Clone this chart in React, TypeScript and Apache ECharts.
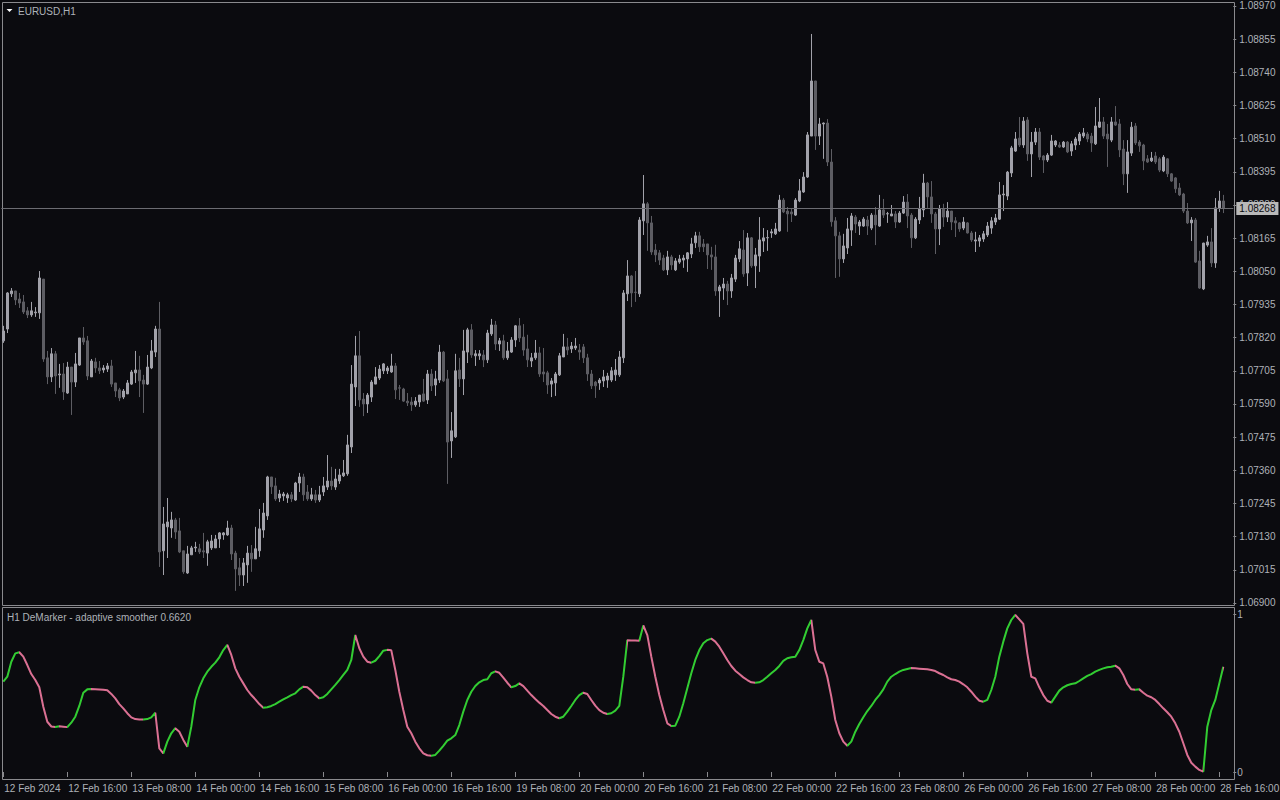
import { useEffect, useRef } from "react";
import * as echarts from "echarts";

// ---------- categories / tick labels ----------
const FIRST_LABEL = "12 Feb 2024";
const TRADING_DAYS = ["12 Feb", "13 Feb", "14 Feb", "15 Feb", "16 Feb", "19 Feb", "20 Feb", "21 Feb", "22 Feb", "23 Feb", "26 Feb", "27 Feb", "28 Feb"];
const SLOT_COUNT = 308;
const LABEL_STEP = 16;
const PRICE_TICKS = [1.0897, 1.08855, 1.0874, 1.08625, 1.0851, 1.08395, 1.0828, 1.08165, 1.0805, 1.07935, 1.0782, 1.07705, 1.0759, 1.07475, 1.0736, 1.07245, 1.0713, 1.07015, 1.069];
const PRICE_MIN = 1.068965;
const PRICE_MAX = 1.089804;

// ---------- EURUSD H1 candles ----------
const OPEN = [
  1.07809, 1.0785, 1.07972, 1.07982, 1.07954, 1.07944, 1.07913, 1.07899, 1.07906, 1.07906,
  1.08023, 1.0775, 1.07684, 1.07764, 1.07691, 1.07694, 1.07628, 1.07718, 1.07666, 1.07725,
  1.07819, 1.07809, 1.07684, 1.07736, 1.07715, 1.07708, 1.07711, 1.07722, 1.07663, 1.07639,
  1.07614, 1.07625, 1.07659, 1.07698, 1.07708, 1.07673, 1.07659, 1.07715, 1.0777, 1.0785,
  1.07081, 1.07164, 1.0716, 1.07188, 1.0715, 1.07081, 1.07004, 1.07067, 1.07091, 1.07088,
  1.07081, 1.07073, 1.07091, 1.07091, 1.07122, 1.07136, 1.07136, 1.0716, 1.07073, 1.07022,
  1.06997, 1.07032, 1.07073, 1.07053, 1.07081, 1.07153, 1.07202, 1.07337, 1.07306, 1.07264,
  1.07271, 1.07264, 1.07275, 1.07257, 1.07316, 1.07337, 1.07285, 1.07261, 1.07275, 1.07257,
  1.07285, 1.07302, 1.07323, 1.07302, 1.07323, 1.07341, 1.07348, 1.07441, 1.07649, 1.07757,
  1.07607, 1.0759, 1.07614, 1.07659, 1.0768, 1.07705, 1.07705, 1.07701, 1.07722, 1.07646,
  1.07642, 1.076, 1.07597, 1.07587, 1.07597, 1.07625, 1.07604, 1.07694, 1.07656, 1.07673,
  1.0777, 1.07677, 1.07462, 1.07476, 1.07708, 1.07677, 1.0777, 1.07847, 1.07757, 1.07757,
  1.0776, 1.07743, 1.07833, 1.07864, 1.07798, 1.07809, 1.0775, 1.0777, 1.07812, 1.07861,
  1.07822, 1.07781, 1.07739, 1.0775, 1.07767, 1.07701, 1.07698, 1.07659, 1.07663, 1.07691,
  1.07753, 1.07788, 1.07781, 1.07784, 1.07777, 1.07788, 1.0775, 1.07694, 1.07666, 1.07663,
  1.0767, 1.07673, 1.07673, 1.07691, 1.07691, 1.0775, 1.07972, 1.08034, 1.07978, 1.07972,
  1.08225, 1.08284, 1.08218, 1.08124, 1.08114, 1.08096, 1.08055, 1.081, 1.08055, 1.08082,
  1.08089, 1.08093, 1.0811, 1.08149, 1.08173, 1.08145, 1.08145, 1.08107, 1.081, 1.07982,
  1.07992, 1.08006, 1.07982, 1.08023, 1.08093, 1.08124, 1.08044, 1.08166, 1.08069, 1.08103,
  1.08155, 1.08166, 1.08183, 1.0818, 1.0819, 1.08297, 1.08259, 1.08256, 1.08245, 1.08294,
  1.08325, 1.08377, 1.08519, 1.0871, 1.08519, 1.08561, 1.08564, 1.08429, 1.08225, 1.08173,
  1.08093, 1.08131, 1.08193, 1.08238, 1.08207, 1.08207, 1.08228, 1.082, 1.08245, 1.08207,
  1.08263, 1.08249, 1.08242, 1.08249, 1.08221, 1.08252, 1.0829, 1.08245, 1.08166, 1.08228,
  1.08263, 1.08356, 1.08308, 1.08249, 1.08197, 1.08266, 1.08238, 1.08259, 1.08225, 1.08218,
  1.082, 1.08218, 1.08183, 1.08155, 1.08155, 1.08162, 1.08176, 1.082, 1.08221, 1.08231,
  1.08315, 1.08311, 1.08391, 1.08467, 1.08512, 1.08488, 1.08575, 1.08457, 1.08498, 1.08533,
  1.0845, 1.08436, 1.08453, 1.08488, 1.08488, 1.08481, 1.08498, 1.08467, 1.08488, 1.08502,
  1.08519, 1.08526, 1.08519, 1.08492, 1.0855, 1.08568, 1.08526, 1.08505, 1.08568, 1.08561,
  1.08474, 1.08388, 1.0846, 1.08554, 1.08498, 1.08488, 1.0844, 1.08433, 1.0845, 1.0844,
  1.08398, 1.0844, 1.08388, 1.08374, 1.08339, 1.08318, 1.08259, 1.08218, 1.08228, 1.08086,
  1.07989, 1.08141, 1.08152, 1.08079, 1.0827, 1.08294,
];
const HIGH = [
  1.07861, 1.07978, 1.07992, 1.07982, 1.07975, 1.07968, 1.07926, 1.07944, 1.07926, 1.08051,
  1.08023, 1.07774, 1.07784, 1.07774, 1.07729, 1.07732, 1.07736, 1.07718, 1.07767, 1.07819,
  1.07857, 1.07826, 1.07746, 1.0775, 1.07739, 1.07725, 1.07732, 1.07743, 1.07663, 1.07646,
  1.07642, 1.07673, 1.07708, 1.07774, 1.07757, 1.07691, 1.0776, 1.07812, 1.07861, 1.07944,
  1.07233, 1.07264, 1.07216, 1.07195, 1.07195, 1.07081, 1.07098, 1.07098, 1.07112, 1.07105,
  1.07143, 1.07119, 1.07136, 1.07136, 1.07146, 1.07146, 1.07185, 1.07171, 1.07081, 1.07056,
  1.07056, 1.07098, 1.07101, 1.07164, 1.07226, 1.07247, 1.07341, 1.07337, 1.07334, 1.07292,
  1.07285, 1.07282, 1.07285, 1.0732, 1.07351, 1.07348, 1.07309, 1.07299, 1.07292, 1.07306,
  1.07337, 1.07413, 1.07372, 1.07365, 1.07365, 1.07396, 1.07483, 1.07725, 1.07826, 1.07843,
  1.07628, 1.07628, 1.07673, 1.07718, 1.07725, 1.07732, 1.07722, 1.07764, 1.07732, 1.07656,
  1.07646, 1.07628, 1.07614, 1.07614, 1.07621, 1.07677, 1.07708, 1.07711, 1.07705, 1.07795,
  1.07774, 1.07708, 1.07562, 1.07764, 1.0775, 1.07847, 1.07854, 1.07867, 1.07777, 1.07777,
  1.07777, 1.07847, 1.07885, 1.07878, 1.07819, 1.0783, 1.07805, 1.07822, 1.07864, 1.07888,
  1.07867, 1.0783, 1.07767, 1.07812, 1.07788, 1.07784, 1.07705, 1.0768, 1.07701, 1.07767,
  1.07833, 1.07819, 1.07805, 1.07819, 1.07798, 1.07798, 1.07764, 1.07708, 1.0767, 1.0768,
  1.07708, 1.07698, 1.07718, 1.07746, 1.07774, 1.07985, 1.08089, 1.08037, 1.08051, 1.08238,
  1.08384, 1.0829, 1.08242, 1.08145, 1.08124, 1.08107, 1.08121, 1.08107, 1.08096, 1.08107,
  1.08107, 1.08117, 1.08166, 1.08187, 1.08187, 1.08162, 1.08145, 1.08135, 1.08142, 1.08003,
  1.08027, 1.08017, 1.08041, 1.08107, 1.08155, 1.08193, 1.08183, 1.08169, 1.08131, 1.08238,
  1.082, 1.08193, 1.08197, 1.08218, 1.08315, 1.08304, 1.08273, 1.08266, 1.08304, 1.0837,
  1.08394, 1.08533, 1.08873, 1.0871, 1.08582, 1.08566, 1.08578, 1.08474, 1.08238, 1.08187,
  1.0818, 1.08235, 1.08252, 1.08245, 1.08228, 1.08238, 1.08242, 1.08252, 1.08273, 1.08315,
  1.08301, 1.08256, 1.0828, 1.08259, 1.08259, 1.08311, 1.08318, 1.08252, 1.08238, 1.08308,
  1.08388, 1.0836, 1.08363, 1.08256, 1.0828, 1.08284, 1.0829, 1.08259, 1.08238, 1.08221,
  1.08238, 1.08221, 1.0819, 1.08187, 1.08176, 1.0819, 1.08221, 1.08238, 1.08249, 1.0836,
  1.08349, 1.08398, 1.08485, 1.08533, 1.08585, 1.08585, 1.08585, 1.08533, 1.08547, 1.08547,
  1.08453, 1.0846, 1.08523, 1.08505, 1.08498, 1.08502, 1.08502, 1.08502, 1.08516, 1.08533,
  1.08547, 1.08533, 1.0853, 1.0862, 1.08651, 1.08585, 1.08561, 1.08585, 1.08623, 1.08578,
  1.08505, 1.08505, 1.08568, 1.08564, 1.08505, 1.08492, 1.08453, 1.08464, 1.08464, 1.08446,
  1.08453, 1.08443, 1.08391, 1.08377, 1.08356, 1.08322, 1.08287, 1.08238, 1.08235, 1.08121,
  1.08149, 1.08173, 1.082, 1.08304, 1.08329, 1.08315,
];
const LOW = [
  1.07802, 1.07836, 1.07961, 1.07933, 1.07923, 1.07902, 1.07888, 1.07892, 1.07892, 1.07885,
  1.07736, 1.07659, 1.07666, 1.07625, 1.07646, 1.07604, 1.07625, 1.07552, 1.07649, 1.07722,
  1.07795, 1.07673, 1.07684, 1.07698, 1.07694, 1.07698, 1.07701, 1.07649, 1.07614, 1.076,
  1.07607, 1.07625, 1.07656, 1.07663, 1.07614, 1.07559, 1.07656, 1.07711, 1.07753, 1.07025,
  1.06997, 1.07056, 1.07126, 1.07122, 1.07073, 1.07001, 1.07001, 1.07067, 1.07077, 1.0707,
  1.07056, 1.07029, 1.07084, 1.07091, 1.07091, 1.07119, 1.07133, 1.07049, 1.06942, 1.06959,
  1.06959, 1.0697, 1.07008, 1.07053, 1.0706, 1.07126, 1.07188, 1.07278, 1.07254, 1.0725,
  1.07254, 1.07247, 1.0725, 1.07254, 1.07285, 1.07254, 1.07254, 1.07254, 1.07247, 1.0725,
  1.07271, 1.07292, 1.07292, 1.07292, 1.07313, 1.07337, 1.07341, 1.0742, 1.07583, 1.0758,
  1.07548, 1.07559, 1.07597, 1.07659, 1.07673, 1.07694, 1.07694, 1.07698, 1.07607, 1.07604,
  1.07597, 1.07583, 1.07566, 1.0758, 1.0758, 1.07597, 1.0759, 1.07635, 1.07618, 1.07663,
  1.07666, 1.07313, 1.07403, 1.07472, 1.07649, 1.07621, 1.07732, 1.0775, 1.07722, 1.07743,
  1.07718, 1.07732, 1.07826, 1.07777, 1.07774, 1.07743, 1.07743, 1.07767, 1.07788, 1.07805,
  1.07757, 1.07718, 1.07718, 1.07743, 1.07684, 1.07666, 1.07625, 1.07614, 1.07618, 1.07687,
  1.07753, 1.0776, 1.07767, 1.07777, 1.07743, 1.07732, 1.0767, 1.07642, 1.07611, 1.07639,
  1.07649, 1.07646, 1.07666, 1.0767, 1.07684, 1.07732, 1.07947, 1.07926, 1.07944, 1.07961,
  1.08176, 1.08121, 1.08107, 1.08082, 1.08072, 1.08051, 1.08037, 1.08055, 1.08051, 1.08076,
  1.08062, 1.08048, 1.08096, 1.08131, 1.08117, 1.08117, 1.08058, 1.08055, 1.07965, 1.07892,
  1.07951, 1.07933, 1.07958, 1.08013, 1.08082, 1.08031, 1.07999, 1.08062, 1.07992, 1.08048,
  1.08117, 1.08121, 1.08166, 1.08176, 1.08187, 1.08252, 1.08187, 1.08221, 1.08242, 1.0829,
  1.08322, 1.08374, 1.08519, 1.08471, 1.08488, 1.0844, 1.08415, 1.08205, 1.08027, 1.08031,
  1.08079, 1.0811, 1.08138, 1.08183, 1.08176, 1.08204, 1.08176, 1.08193, 1.08141, 1.08204,
  1.08235, 1.08218, 1.08242, 1.082, 1.08218, 1.08249, 1.082, 1.08131, 1.08162, 1.08214,
  1.08238, 1.0827, 1.08218, 1.0811, 1.08141, 1.08204, 1.08221, 1.08193, 1.08169, 1.08187,
  1.08193, 1.08181, 1.08152, 1.08117, 1.08135, 1.08152, 1.08169, 1.0818, 1.08211, 1.08228,
  1.08259, 1.08297, 1.08377, 1.08464, 1.08481, 1.08478, 1.08433, 1.08377, 1.08488, 1.08436,
  1.08391, 1.08429, 1.0845, 1.08481, 1.08478, 1.08478, 1.0846, 1.0845, 1.08471, 1.08488,
  1.08512, 1.08498, 1.08464, 1.08488, 1.08547, 1.08509, 1.08412, 1.08498, 1.08554, 1.08446,
  1.08349, 1.08322, 1.0845, 1.08488, 1.08464, 1.08401, 1.08426, 1.08429, 1.08422, 1.08394,
  1.08394, 1.08377, 1.0836, 1.08322, 1.08311, 1.08252, 1.08214, 1.08155, 1.08079, 1.07989,
  1.07985, 1.08135, 1.08065, 1.08062, 1.08256, 1.08252,
];
const CLOSE = [
  1.07843, 1.07975, 1.07982, 1.07951, 1.0794, 1.07909, 1.07899, 1.07913, 1.07909, 1.08027,
  1.07746, 1.07684, 1.07764, 1.07687, 1.07694, 1.07632, 1.07718, 1.07666, 1.07729, 1.07819,
  1.07805, 1.07687, 1.07739, 1.07715, 1.07705, 1.07715, 1.07722, 1.07659, 1.07635, 1.07611,
  1.07635, 1.07663, 1.07701, 1.07708, 1.0767, 1.07659, 1.07718, 1.07774, 1.0785, 1.07077,
  1.07174, 1.07181, 1.07188, 1.07146, 1.07077, 1.07008, 1.0707, 1.07091, 1.07094, 1.07077,
  1.07077, 1.07112, 1.07115, 1.07122, 1.07143, 1.07143, 1.0716, 1.0707, 1.07018, 1.06997,
  1.07039, 1.07073, 1.07053, 1.07088, 1.07157, 1.07212, 1.07337, 1.07303, 1.07261, 1.07278,
  1.07278, 1.07275, 1.07261, 1.07316, 1.07337, 1.07275, 1.07261, 1.07275, 1.07257, 1.07275,
  1.07306, 1.07323, 1.07306, 1.0733, 1.07344, 1.07351, 1.07448, 1.07659, 1.07757, 1.07604,
  1.0759, 1.07621, 1.07666, 1.07684, 1.07711, 1.07729, 1.07715, 1.07722, 1.07639, 1.07645,
  1.076, 1.07594, 1.07587, 1.076, 1.07621, 1.076, 1.07694, 1.07653, 1.07677, 1.0777,
  1.0767, 1.07458, 1.07497, 1.07705, 1.07677, 1.07774, 1.07847, 1.0776, 1.07764, 1.07764,
  1.07743, 1.07836, 1.07864, 1.07798, 1.07809, 1.0775, 1.07774, 1.07812, 1.07861, 1.07819,
  1.07777, 1.07743, 1.0775, 1.07767, 1.07694, 1.07694, 1.07656, 1.0767, 1.07694, 1.07757,
  1.07788, 1.07777, 1.07791, 1.07791, 1.0777, 1.0775, 1.07694, 1.07653, 1.07653, 1.07673,
  1.07684, 1.07687, 1.07705, 1.07708, 1.07753, 1.07975, 1.08034, 1.07975, 1.07977, 1.08228,
  1.08284, 1.08218, 1.08117, 1.08107, 1.08089, 1.08055, 1.081, 1.08072, 1.08086, 1.08093,
  1.08096, 1.08114, 1.08145, 1.08173, 1.08135, 1.08135, 1.08107, 1.081, 1.07982, 1.07996,
  1.08006, 1.07982, 1.08027, 1.08096, 1.08128, 1.08041, 1.08166, 1.08069, 1.08107, 1.08159,
  1.08166, 1.08167, 1.08187, 1.08197, 1.08297, 1.08256, 1.08249, 1.08249, 1.08297, 1.08329,
  1.08377, 1.08523, 1.0871, 1.08519, 1.08561, 1.08564, 1.08429, 1.08222, 1.08173, 1.08093,
  1.08138, 1.08197, 1.08242, 1.08214, 1.08221, 1.08231, 1.08207, 1.08245, 1.08211, 1.08263,
  1.08245, 1.0825, 1.08249, 1.08221, 1.08252, 1.0829, 1.08242, 1.08166, 1.08231, 1.08266,
  1.08356, 1.08308, 1.08249, 1.08197, 1.08266, 1.08238, 1.08259, 1.08221, 1.08218, 1.08197,
  1.08221, 1.08183, 1.08159, 1.08159, 1.08166, 1.0818, 1.08207, 1.08225, 1.08235, 1.08315,
  1.08318, 1.08394, 1.08478, 1.08509, 1.08488, 1.08571, 1.08457, 1.08498, 1.08533, 1.08446,
  1.08436, 1.08453, 1.08502, 1.08502, 1.08481, 1.08498, 1.08464, 1.08492, 1.08509, 1.08526,
  1.0853, 1.08509, 1.08495, 1.08554, 1.08568, 1.08519, 1.08509, 1.08568, 1.08557, 1.08471,
  1.08388, 1.08464, 1.0855, 1.08495, 1.08485, 1.08433, 1.08429, 1.08443, 1.08429, 1.08401,
  1.08446, 1.08388, 1.08363, 1.08336, 1.08315, 1.08259, 1.08218, 1.08228, 1.08082, 1.07992,
  1.08148, 1.08152, 1.08079, 1.0827, 1.08294, 1.08268,
];

// ---------- DeMarker adaptive smoother (0..1) ----------
const DEMARKER = [
  0.572, 0.603, 0.698, 0.751, 0.758, 0.73, 0.677, 0.62, 0.582, 0.536,
  0.413, 0.318, 0.288, 0.285, 0.29, 0.287, 0.284, 0.312, 0.35, 0.418,
  0.502, 0.523, 0.525, 0.524, 0.522, 0.52, 0.517, 0.494, 0.466, 0.43,
  0.403, 0.372, 0.346, 0.335, 0.333, 0.332, 0.335, 0.346, 0.375, 0.15,
  0.118, 0.192, 0.245, 0.277, 0.255, 0.203, 0.16, 0.287, 0.456, 0.536,
  0.593, 0.635, 0.666, 0.692, 0.726, 0.772, 0.804, 0.741, 0.656, 0.603,
  0.561, 0.519, 0.487, 0.46, 0.43, 0.407, 0.41, 0.418, 0.43, 0.445,
  0.46, 0.473, 0.487, 0.498, 0.523, 0.54, 0.536, 0.515, 0.487, 0.466,
  0.473, 0.494, 0.523, 0.551, 0.582, 0.614, 0.646, 0.709, 0.867, 0.783,
  0.73, 0.698, 0.692, 0.704, 0.734, 0.768, 0.773, 0.77, 0.646, 0.508,
  0.392, 0.287, 0.245, 0.192, 0.15, 0.118, 0.106, 0.103, 0.108, 0.135,
  0.166, 0.198, 0.213, 0.234, 0.297, 0.382, 0.456, 0.508, 0.544, 0.568,
  0.582, 0.587, 0.625, 0.637, 0.628, 0.597, 0.565, 0.536, 0.544, 0.561,
  0.544, 0.515, 0.487, 0.462, 0.439, 0.418, 0.392, 0.367, 0.35, 0.34,
  0.35, 0.382, 0.418, 0.456, 0.487, 0.502, 0.494, 0.456, 0.42, 0.392,
  0.375, 0.367, 0.372, 0.388, 0.418, 0.603, 0.834, 0.833, 0.832, 0.83,
  0.928, 0.867, 0.73, 0.603, 0.487, 0.392, 0.308, 0.291, 0.293, 0.35,
  0.435, 0.53, 0.625, 0.709, 0.772, 0.815, 0.835, 0.844, 0.825, 0.793,
  0.751, 0.709, 0.671, 0.641, 0.62, 0.599, 0.582, 0.568, 0.565, 0.568,
  0.582, 0.603, 0.625, 0.646, 0.671, 0.703, 0.72, 0.726, 0.73, 0.772,
  0.835, 0.909, 0.962, 0.772, 0.698, 0.687, 0.601, 0.477, 0.329, 0.245,
  0.192, 0.166, 0.192, 0.255, 0.304, 0.346, 0.386, 0.418, 0.456, 0.487,
  0.523, 0.572, 0.603, 0.62, 0.635, 0.646, 0.652, 0.658, 0.656, 0.654,
  0.652, 0.65, 0.646, 0.639, 0.625, 0.614, 0.599, 0.587, 0.582, 0.572,
  0.555, 0.536, 0.508, 0.477, 0.451, 0.445, 0.456, 0.519, 0.603, 0.73,
  0.825, 0.909, 0.962, 0.994, 0.966, 0.937, 0.751, 0.603, 0.593, 0.536,
  0.487, 0.451, 0.439, 0.477, 0.515, 0.536, 0.549, 0.557, 0.561, 0.576,
  0.593, 0.608, 0.62, 0.635, 0.646, 0.656, 0.663, 0.666, 0.673, 0.656,
  0.614, 0.557, 0.523, 0.52, 0.523, 0.502, 0.483, 0.473, 0.456, 0.43,
  0.403, 0.378, 0.35, 0.308, 0.255, 0.182, 0.108, 0.059, 0.034, 0.013,
  0.002, 0.287, 0.392, 0.456, 0.561, 0.666,
];
const DEM_TICKS = [0, 1];

// ---------- styles ----------
const BG = "#0b0b0f";
const FRAME = "#8a8a8e";
const TEXT = "#aeb2b8";
const UP = "#a2a2aa";
const DOWN = "#5d5d63";
const GREEN = "#32cd32";
const PINK = "#db7093";
const FONT = '"Liberation Sans", Arial, sans-serif';

const CATEGORIES: string[] = [];
TRADING_DAYS.forEach((d) => {
  for (let h = 0; h < 24; h++) CATEGORIES.push(`${d} ${String(h).padStart(2, "0")}:00`);
});
CATEGORIES.length = SLOT_COUNT;

const CANDLES = OPEN.map((o, i) => [o, CLOSE[i], LOW[i], HIGH[i]]);
const LAST_PRICE = CLOSE[CLOSE.length - 1];

const DEM_PIECES = (() => {
  const out: any[] = [];
  let start = 0;
  let up = DEMARKER[1] >= DEMARKER[0];
  const push = (a: number, b: number, isUp: boolean) =>
    out.push(a === 0 ? { gte: a, lte: b, color: isUp ? GREEN : PINK } : { gt: a, lte: b, color: isUp ? GREEN : PINK });
  for (let i = 2; i < DEMARKER.length; i++) {
    const u = DEMARKER[i] >= DEMARKER[i - 1];
    if (u !== up) {
      push(start, i - 1, up);
      start = i - 1;
      up = u;
    }
  }
  push(start, DEMARKER.length - 1, up);
  return out;
})();

const GRID_LEFT = 1.3;
const GRID_RIGHT = 46.7;

export default function App() {
  const ref = useRef<HTMLDivElement>(null);
  useEffect(() => {
    if (!ref.current) return;
    const chart = echarts.init(ref.current, null, { renderer: "svg" });
    const labelStyle = { color: TEXT, fontSize: 10, fontFamily: FONT };
    const option: any = {
      animation: false,
      backgroundColor: BG,
      grid: [
        { left: GRID_LEFT, right: GRID_RIGHT, top: 3, height: 601, containLabel: false, outerBoundsMode: "none" },
        { left: GRID_LEFT, right: GRID_RIGHT, top: 614, height: 158, containLabel: false, outerBoundsMode: "none" },
      ],
      xAxis: [
        {
          type: "category", gridIndex: 0, data: CATEGORIES, boundaryGap: true,
          axisLine: { show: false }, axisTick: { show: false }, axisLabel: { show: false }, splitLine: { show: false },
        },
        {
          type: "category", gridIndex: 1, data: CATEGORIES, boundaryGap: true, position: "bottom", offset: 8,
          axisLine: { show: false },
          axisTick: { show: true, interval: LABEL_STEP - 1, alignWithLabel: true, length: 5, lineStyle: { color: FRAME } },
          axisLabel: {
            ...labelStyle, interval: LABEL_STEP - 1, align: "left", margin: 3, padding: [0, 0, 0, 1],
            hideOverlap: false,
            formatter: (v: string, idx: number) => (idx === 0 ? FIRST_LABEL : v),
          },
          splitLine: { show: false },
        },
      ],
      yAxis: [
        {
          type: "value", gridIndex: 0, position: "right", min: PRICE_MIN, max: PRICE_MAX, scale: true,
          splitLine: { show: false }, axisLine: { show: false },
          axisTick: { show: true, length: 3, customValues: PRICE_TICKS, lineStyle: { color: FRAME } },
          axisLabel: { ...labelStyle, margin: 6, customValues: PRICE_TICKS, formatter: (v: number) => v.toFixed(5) },
        },
        {
          type: "value", gridIndex: 1, position: "right", min: 0, max: 1, interval: 1,
          splitLine: { show: false }, axisLine: { show: false },
          axisTick: { show: true, length: 3, customValues: DEM_TICKS, lineStyle: { color: FRAME } },
          axisLabel: { ...labelStyle, margin: 4, customValues: DEM_TICKS },
        },
      ],
      visualMap: {
        type: "piecewise", show: false, seriesIndex: 1, dimension: 0, pieces: DEM_PIECES, outOfRange: { color: PINK },
      },
      series: [
        {
          type: "candlestick", xAxisIndex: 0, yAxisIndex: 0, data: CANDLES, barWidth: 2,
          itemStyle: { color: UP, color0: DOWN, borderColor: UP, borderColor0: DOWN, borderColorDoji: UP, borderWidth: 1 },
          emphasis: { disabled: true },
          markLine: {
            silent: true, symbol: ["none", "none"], animation: false, precision: 5,
            data: [{ yAxis: LAST_PRICE }],
            lineStyle: { color: "#6c6c72", width: 1, type: "solid" },
            emphasis: { disabled: true },
            label: {
              position: "end", distance: 3, formatter: () => LAST_PRICE.toFixed(5),
              backgroundColor: "#b9b9b9", color: "#0b0b0f", fontSize: 10, fontFamily: FONT, padding: [2, 3, 1, 3],
            },
          },
        },
        {
          type: "line", xAxisIndex: 1, yAxisIndex: 1, data: DEMARKER, showSymbol: false, symbol: "none",
          lineStyle: { width: 2 }, emphasis: { disabled: true },
        },
      ],
      graphic: [
        { type: "rect", silent: true, shape: { x: 2.5, y: 2.5, width: 1232, height: 603 }, style: { fill: "none", stroke: FRAME, lineWidth: 1 } },
        { type: "rect", silent: true, shape: { x: 2.5, y: 607.5, width: 1232, height: 172 }, style: { fill: "none", stroke: FRAME, lineWidth: 1 } },
        { type: "polygon", silent: true, shape: { points: [[6.5, 9], [12.5, 9], [9.5, 12]] }, style: { fill: "#ffffff" } },
        { type: "text", silent: true, x: 18, y: 11, style: { text: "EURUSD,H1", fill: TEXT, font: `10px ${FONT}`, verticalAlign: "middle" } },
        { type: "text", silent: true, x: 7, y: 617, style: { text: "H1 DeMarker - adaptive smoother 0.6620", fill: TEXT, font: `10px ${FONT}`, verticalAlign: "middle" } },
      ],
    };
    chart.setOption(option);
    return () => chart.dispose();
  }, []);
  return <div ref={ref} style={{ position: "fixed", left: 0, top: 0, width: 1280, height: 800 }} />;
}
